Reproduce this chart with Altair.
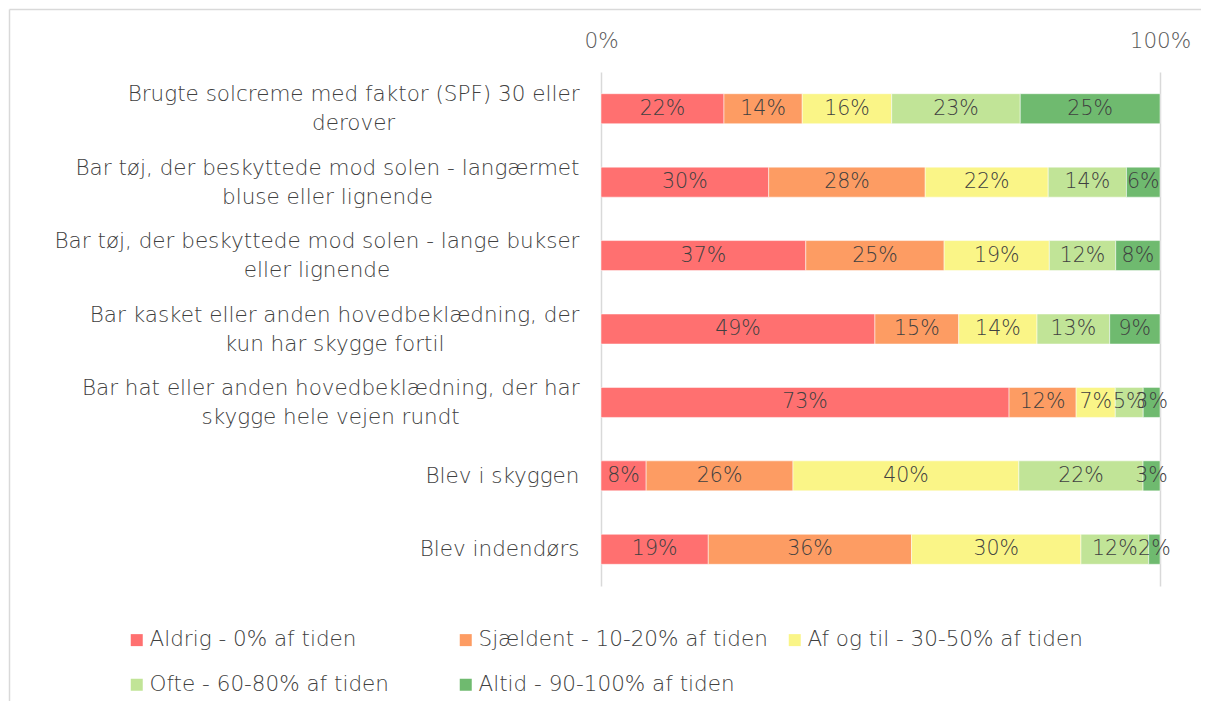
import glob
import altair as alt
import pandas as pd

questions = [
    "Brugte solcreme med faktor (SPF) 30 eller|derover",
    "Bar tøj, der beskyttede mod solen - langærmet|bluse eller lignende",
    "Bar tøj, der beskyttede mod solen - lange bukser|eller lignende",
    "Bar kasket eller anden hovedbeklædning, der|kun har skygge fortil",
    "Bar hat eller anden hovedbeklædning, der har|skygge hele vejen rundt",
    "Blev i skyggen",
    "Blev indendørs",
]
categories = [
    "Aldrig - 0% af tiden",
    "Sjældent - 10-20% af tiden",
    "Af og til - 30-50% af tiden",
    "Ofte - 60-80% af tiden",
    "Altid - 90-100% af tiden",
]
colors = ["#FF7070", "#FD9C63", "#FAF587", "#C1E497", "#6FBA6F"]
aldrig = [22, 30, 37, 49, 73, 8, 19]
sjaeldent = [14, 28, 25, 15, 12, 26, 36]
af_og_til = [16, 22, 19, 14, 7, 40, 30]
ofte = [23, 14, 12, 13, 5, 22, 12]
altid = [25, 6, 8, 9, 3, 3, 2]

series = [aldrig, sjaeldent, af_og_til, ofte, altid]
rows = []
for ci, (cat, vals) in enumerate(zip(categories, series)):
    for qi, q in enumerate(questions):
        rows.append({"q": q, "cat": cat, "order": ci, "v": vals[qi]})
df = pd.DataFrame(rows)

FONT = "DejaVu Sans"
FW = 300
TXT = "#404040"
LBL = 21.5
PAD = 22
W, H = 559, 514
PL, PT, PR, PB = 593, 64, 41, 115

# measure text widths to centre each wrapped label block (layout only)
def make_measure():
    try:
        from PIL import ImageFont
        files = glob.glob("/usr/share/fonts/**/DejaVuSans-ExtraLight.ttf", recursive=True)
        if files:
            f = ImageFont.truetype(files[0], 200)
            return lambda s: f.getlength(s) * LBL / 200.0
    except Exception:
        pass
    return lambda s: len(s) * LBL * 0.52

measure = make_measure()
parts = []
for q in questions:
    w = max(measure(line) for line in q.split("|"))
    parts.append((q, PAD + w / 2.0))
pad_expr = "0"
for q, p in reversed(parts):
    pad_expr = f"datum.label == '{q}' ? {p:.1f} : ({pad_expr})"

base = alt.Chart(df).transform_joinaggregate(
    total="sum(v)", groupby=["q"]
).transform_window(
    cum="sum(v)", sort=[alt.SortField("order")], groupby=["q"],
    frame=[None, 0]
).transform_calculate(
    x1="(datum.cum - datum.v) / datum.total",
    x2="datum.cum / datum.total",
    mid="(datum.cum - datum.v / 2) / datum.total",
    lab="datum.v + '%'",
)

yenc = alt.Y("q:N", sort=questions, title=None,
             scale=alt.Scale(paddingInner=0, paddingOuter=0),
             axis=alt.Axis(labelExpr="split(datum.label, '|')", labelFontSize=LBL,
                           labelColor=TXT, labelFont=FONT, labelFontWeight=FW,
                           labelPadding={"expr": pad_expr},
                           labelLimit=700, labelLineHeight=29, ticks=False,
                           labelOffset={"expr": "indexof(datum.label, '|') >= 0 ? -13.5 : 1"},
                           domain=False, labelAlign="center"))

bars = base.mark_bar(size=30, stroke="white", strokeWidth=0.5).encode(
    x=alt.X("x1:Q", scale=alt.Scale(domain=[0, 1]), title=None,
            axis=alt.Axis(orient="top", values=[0, 1], format=".0%",
                          labelFontSize=LBL, labelColor="#595959", labelFont=FONT,
                          labelFontWeight=FW, labelFlush=False,
                          ticks=False, domain=False, labelPadding=20,
                          grid=True, gridColor="#D9D9D9", gridWidth=1.5)),
    x2="x2:Q",
    y=yenc,
    color=alt.Color("cat:N", sort=categories,
                    scale=alt.Scale(domain=categories, range=colors),
                    legend=alt.Legend(title=None, orient="none", legendX=-475,
                                      legendY=557, columns=3, direction="horizontal",
                                      symbolType="square", symbolSize=144,
                                      symbolStrokeWidth=0, labelFontSize=LBL,
                                      labelFont=FONT, labelFontWeight=FW,
                                      labelColor=TXT, labelOffset=2,
                                      labelLimit=400, columnPadding=16,
                                      rowPadding=22, gridAlign="all")),
    order="order:Q",
)

labels = base.mark_text(fontSize=20.5, font=FONT, fontWeight=FW, color=TXT).encode(
    x="mid:Q", y=alt.Y("q:N", sort=questions), text="lab:N"
)

# decorative outer frame (top and left edges of the chart box)
frame_df = pd.DataFrame({"k": [0]})
frame_top = alt.Chart(frame_df).mark_rule(color="#D9D9D9", strokeWidth=1.5).encode(
    x=alt.value(-PL + 1.5), x2=alt.value(W + PR), y=alt.value(-PT + 1.5))
frame_left = alt.Chart(frame_df).mark_rule(color="#D9D9D9", strokeWidth=1.5).encode(
    x=alt.value(-PL + 1.5), y=alt.value(-PT + 1.5), y2=alt.value(H + PB))

chart = alt.layer(bars, labels, frame_top, frame_left).properties(
    width=W, height=H,
    autosize=alt.AutoSizeParams(type="none"),
    padding={"left": PL, "top": PT, "right": PR, "bottom": PB},
).configure_view(stroke=None)

chart.save("out.html", embed_options={"renderer": "svg", "actions": False})
